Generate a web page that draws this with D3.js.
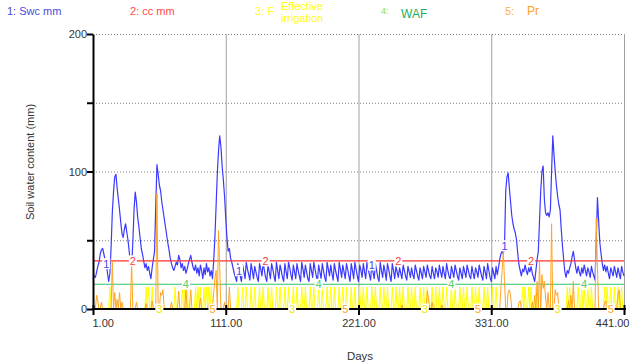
<!DOCTYPE html>
<html>
<head>
<meta charset="utf-8">
<script src="https://cdn.jsdelivr.net/npm/d3@7"></script>
<style>
  body { margin: 0; background: #fff; }
  text { font-family: Arial, "Liberation Sans", sans-serif; }
</style>
</head>
<body>
<svg id="chart" width="643" height="362"></svg>
<script>
// soil water content, one value per day (day 1 .. 441)
var swc = [
  22,24,23,27,31,34,40,43,44,40,36,33,26,20,26,45,70,85,96,98,
  88,80,72,63,55,52,58,62,56,50,42,33,31,48,72,85,78,67,60,52,
  44,40,35,30,33,28,31,26,22,30,36,42,75,105,98,90,86,78,72,66,
  60,54,48,43,37,33,30,28,31,34,32,39,36,30,33,28,31,26,29,33,
  36,39,34,30,28,32,26,30,24,32,28,22,30,25,33,27,30,24,28,22,
  35,52,75,98,115,126,118,104,94,82,66,52,42,44,37,34,30,26,23,20,
  33,28,24,20,32,27,22,34,29,25,21,33,28,22,31,27,23,20,33,29,
  24,34,28,23,20,32,27,22,33,29,24,20,34,28,22,32,28,23,20,33,
  27,22,34,30,25,21,32,27,22,33,28,24,20,34,29,23,32,27,22,20,
  33,28,23,34,29,24,20,32,27,22,33,28,23,20,34,29,24,32,26,21,
  33,28,24,20,34,29,23,32,27,22,33,29,24,20,33,28,22,34,29,24,
  20,32,28,23,33,27,22,34,29,25,21,32,27,22,33,28,23,20,34,28,
  23,32,27,21,33,29,24,20,33,28,22,31,27,23,30,26,22,32,28,24,
  21,31,27,23,30,25,22,32,28,24,21,30,26,22,31,27,23,32,28,24,
  22,31,26,22,30,27,23,32,27,23,31,26,22,33,28,24,21,31,27,23,
  32,28,24,21,30,26,22,31,27,23,32,28,24,22,31,26,22,30,27,23,
  32,28,24,21,31,27,22,33,28,23,20,30,26,22,31,25,30,36,40,42,
  40,46,86,96,99,88,78,68,62,58,55,50,40,32,28,24,29,27,32,28,
  25,30,27,31,26,23,20,28,36,42,64,86,100,104,80,70,68,70,67,72,
  100,126,112,100,90,82,76,72,58,46,36,27,23,28,26,30,33,38,42,36,
  30,26,31,27,24,30,26,32,28,24,30,27,23,31,27,24,21,50,81,64,
  48,40,33,28,32,27,31,26,22,30,27,24,31,27,23,30,26,22,31,27,24
];
var ccLevel = 35;
var wafLevel = 18;

// irrigation events (day) and depth
var irrigationDays = [15,45,47,50,69,75,77,79,86,88,90,93,95,97,99,
  121,125,128,132,135,139,142,146,149,153,156,160,163,167,170,174,177,181,184,188,
  191,195,198,201,205,208,211,215,218,222,225,228,232,235,239,242,245,249,252,255,
  258,262,265,268,272,275,278,282,285,288,291,294,298,301,305,308,311,315,318,321,
  325,328,332,335,357,359,362,364,368,394,396,403,406,408,411,414,425,427,430,433,436,439];
var irrigationDepth = 16;

// rain events
var rainDays = [4,5,8,17,19,21,23,25,33,37,45,50,54,57,58,59,66,72,78,82,
  90,97,101,102,103,105,106,110,114,257,278,279,282,290,339,340,341,342,345,346,
  347,354,355,365,367,369,371,373,374,375,376,378,381,384,385,386,395,397,399,418,
  419,425,426,436,437];
var rainMm = [10,6,5,35,12,7,12,5,34,5,4,6,84,12,10,14,5,13,15,14,
  8,4,12,22,28,57,30,5,16,3,13,8,5,3,15,28,42,20,12,14,
  10,5,6,5,10,20,34,25,15,20,8,12,62,14,10,12,6,10,20,66,
  30,5,6,10,14];

var xTicks = [1, 111, 221, 331, 441];
var yTicks = [0, 50, 100, 150, 200];

var days = d3.range(1, swc.length + 1);
var irrigation = days.map(function (d) { return irrigationDays.indexOf(d) >= 0 ? irrigationDepth : 0; });
var rain = days.map(function (d) { var i = rainDays.indexOf(d); return i < 0 ? 0 : rainMm[i]; });
var cc = days.map(function () { return ccLevel; });
var waf = days.map(function () { return wafLevel; });

var svg = d3.select("#chart");
var x = d3.scaleLinear().domain([1, 441]).range([93, 624]);
var y = d3.scaleLinear().domain([0, 200]).range([309, 34]);

// grid
svg.append("g").selectAll("line").data(yTicks.slice(1)).join("line")
  .attr("x1", x(1)).attr("x2", x(441))
  .attr("y1", function (d) { return y(d) + 0.5; }).attr("y2", function (d) { return y(d) + 0.5; })
  .attr("stroke", "#7a7a7a").attr("stroke-dasharray", "1,2");
svg.append("g").selectAll("line").data(xTicks.slice(1)).join("line")
  .attr("x1", function (d) { return x(d) + 0.5; }).attr("x2", function (d) { return x(d) + 0.5; })
  .attr("y1", y(200)).attr("y2", y(0))
  .attr("stroke", "#a0a0a0");

// series
var series = [
  { vals: swc, color: "#3a3aff", width: 1.2, labelColor: "#4444ee" },
  { vals: cc, color: "#ff3030", width: 1.2, labelColor: "#ff3b3b" },
  { vals: irrigation, color: "#ffff00", width: 1, labelColor: "#f2e600" },
  { vals: waf, color: "#2ec46a", width: 1.2, labelColor: "#55cc66" },
  { vals: rain, color: "#ffa524", width: 1, labelColor: "#ffa524" }
];
var line = d3.line()
  .x(function (d, i) { return x(days[i]); })
  .y(function (d) { return y(d); });

series.forEach(function (s) {
  svg.append("path").datum(s.vals)
    .attr("fill", "none").attr("stroke", s.color)
    .attr("stroke-width", s.width).attr("stroke-linejoin", "round")
    .attr("d", line);
});

// axes
var yAxis = svg.append("g").attr("transform", "translate(93,0)")
  .call(d3.axisLeft(y).tickValues(yTicks).tickSize(6).tickSizeOuter(0)
    .tickFormat(function (d) { return d % 100 === 0 ? d : ""; }));
yAxis.select(".domain").attr("stroke", "#000").attr("stroke-width", 2);
yAxis.selectAll(".tick line").attr("stroke", "#000").attr("stroke-width", 2);
yAxis.selectAll(".tick text").attr("x", -6).attr("font-size", 11)
  .attr("fill", "#333").attr("font-family", "Arial, 'Liberation Sans', sans-serif");

var xAxis = svg.append("g").attr("transform", "translate(0,309)")
  .call(d3.axisBottom(x).tickValues(xTicks).tickSize(6).tickSizeOuter(0)
    .tickFormat(d3.format(".2f")));
xAxis.select(".domain").attr("stroke", "#000").attr("stroke-width", 2)
  .attr("d", "M92," + 0 + "H626");
xAxis.selectAll(".tick line").attr("stroke", "#000").attr("stroke-width", 2).attr("y1", -4);
xAxis.selectAll(".tick text").attr("y", 10).attr("font-size", 11)
  .attr("fill", "#333").attr("font-family", "Arial, 'Liberation Sans', sans-serif")
  .attr("text-anchor", function (d, i) { return i === 0 ? "start" : (i === xTicks.length - 1 ? "end" : "middle"); })
  .attr("dx", function (d, i) { return i === 0 ? -1 : (i === xTicks.length - 1 ? 5 : 0); });

// series number labels along the lines
series.forEach(function (s, k) {
  for (var j = 0; j < 4; j++) {
    var day = 12 + 22 * k + 110 * j;
    var cx = x(day), cy = y(s.vals[day - 1]);
    svg.append("rect").attr("x", cx - 4).attr("y", cy - 5.5).attr("width", 8).attr("height", 11)
      .attr("fill", "#fff");
    svg.append("text").attr("x", cx).attr("y", cy + 4).attr("text-anchor", "middle")
      .attr("font-size", 11).attr("fill", s.labelColor).text(k + 1);
  }
});

// axis titles
svg.append("text").attr("transform", "translate(34,162) rotate(-90)")
  .attr("text-anchor", "middle").attr("font-size", 11).attr("fill", "#333")
  .text("Soil water content (mm)");
svg.append("text").attr("x", 360).attr("y", 360).attr("text-anchor", "middle")
  .attr("font-size", 11.5).attr("fill", "#333").text("Days");

// legend
var legend = [
  { t: "1: Swc mm", x: 7, y: 15, c: "#4b4bdc", s: 11 },
  { t: "2: cc mm", x: 130, y: 15, c: "#ff4848", s: 11 },
  { t: "3: F", x: 255, y: 15, c: "#ffff30", s: 11 },
  { t: "Effective", x: 281, y: 10, c: "#ffff00", s: 11 },
  { t: "irrigation", x: 281, y: 22, c: "#ffff00", s: 11 },
  { t: "4:", x: 381, y: 14, c: "#80dd50", s: 9 },
  { t: "WAF", x: 401, y: 18, c: "#1faf58", s: 12 },
  { t: "5:", x: 505, y: 15, c: "#ffb035", s: 11 },
  { t: "Pr", x: 527, y: 15, c: "#ffa020", s: 12 }
];
svg.append("g").selectAll("text").data(legend).join("text")
  .attr("x", function (d) { return d.x; }).attr("y", function (d) { return d.y; })
  .attr("font-size", function (d) { return d.s; })
  .attr("fill", function (d) { return d.c; })
  .text(function (d) { return d.t; });
</script>
</body>
</html>
